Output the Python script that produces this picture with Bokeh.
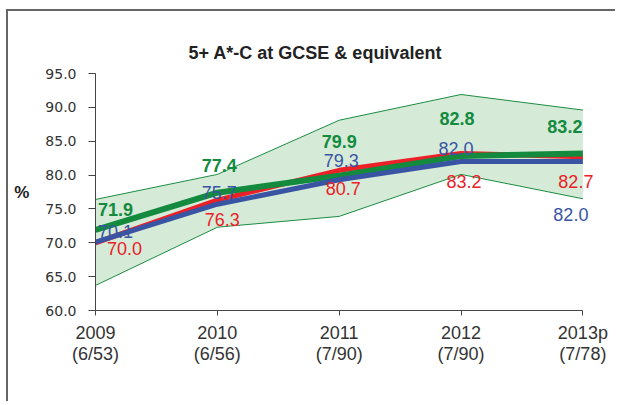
from bokeh.plotting import figure
from bokeh.models import Range1d, FixedTicker, ColumnDataSource, LabelSet, NumeralTickFormatter
from bokeh.core.properties import value
from bokeh.embed import file_html
from bokeh.resources import INLINE

# ---- data ----
years = ["2009", "2010", "2011", "2012", "2013p"]
counts = ["(6/53)", "(6/56)", "(7/90)", "(7/90)", "(7/78)"]
green_vals = [71.9, 77.4, 79.9, 82.8, 83.2]
red_vals = [70.0, 76.3, 80.7, 83.2, 82.7]
blue_vals = [70.1, 75.7, 79.3, 82.0, 82.0]
band_upper = [76.4, 80.1, 88.1, 91.9, 89.6]
band_lower = [63.7, 72.3, 73.9, 80.1, 76.5]
title_text = "5+ A*-C at GCSE & equivalent"
y_label = "%"

# ---- label offsets (screen px, layout only) ----
green_dx = [20, 2, 0, -4, -18]
green_dy = [20, 27, 34, 38, 27]
red_dx = [29, 5, 4, 3, -7]
red_dy = [-6, -19, -18, -28, -25]
blue_dx = [20, 2, 2, -5, -12]
blue_dy = [11, 12, 19, 13, -53]

GREEN = "#138a3e"
RED = "#ec2027"
BLUE = "#3a54a4"

xs = list(range(len(years)))

p = figure(width=609, height=392, output_backend="svg", toolbar_location=None,
           x_range=Range1d(0, len(years) - 1 + 0.12), y_range=Range1d(60, 95),
           min_border_left=87, min_border_top=62, min_border_right=20, min_border_bottom=93,
           title=title_text)
p.styles = {"margin-left": "6px", "margin-top": "9px",
            "border-left": "2px solid #666666", "border-top": "2px solid #666666"}
p.outline_line_color = None
p.background_fill_color = "white"
p.border_fill_color = "white"
p.grid.visible = False

p.title.text_font = "Liberation Sans"
p.title.text_font_size = "18px"
p.title.text_font_style = "bold"
p.title.text_color = "#222222"
p.title.align = "left"
p.title.offset = 93
p.title.standoff = 21

# band
band_src = ColumnDataSource(dict(x=xs, lo=band_lower, hi=band_upper))
p.varea(x="x", y1="lo", y2="hi", source=band_src, fill_color="#d5ebd8", fill_alpha=1.0)
p.line(x="x", y="hi", source=band_src, line_color="#1c8c42", line_width=1)
p.line(x="x", y="lo", source=band_src, line_color="#1c8c42", line_width=1)

# series
p.line(xs, red_vals, line_color=RED, line_width=5)
p.line(xs, green_vals, line_color=GREEN, line_width=6)
p.line(xs, blue_vals, line_color=BLUE, line_width=5)

def add_labels(vals, dx, dy, color, bold):
    src = ColumnDataSource(dict(x=xs, y=vals, t=[f"{v:.1f}" for v in vals], dx=dx, dy=dy))
    ls = LabelSet(x="x", y="y", text="t", x_offset="dx", y_offset="dy", source=src,
                  text_align="center", text_baseline="middle",
                  text_color=color, text_font=value("Liberation Sans"),
                  text_font_size="18px", text_font_style="bold" if bold else "normal")
    p.add_layout(ls)

add_labels(red_vals, red_dx, red_dy, RED, False)
add_labels(blue_vals, blue_dx, blue_dy, BLUE, False)
add_labels(green_vals, green_dx, green_dy, GREEN, True)

# axes
p.xaxis.ticker = FixedTicker(ticks=xs)
p.xaxis.bounds = (xs[0], xs[-1])
p.xaxis.major_label_overrides = {i: f"{y}\n{c}" for i, (y, c) in enumerate(zip(years, counts))}
p.xaxis.major_label_text_font = "Liberation Sans"
p.xaxis.major_label_text_font_size = "18px"
p.xaxis.major_label_text_color = "#333333"
p.xaxis.major_label_text_line_height = 1.05
p.xaxis.major_label_standoff = 7
p.xaxis.major_tick_in = 0
p.xaxis.major_tick_out = 5
p.xaxis.minor_tick_line_color = None
p.xaxis.axis_line_color = "#444444"
p.xaxis.major_tick_line_color = "#444444"

p.yaxis.ticker = FixedTicker(ticks=[60, 65, 70, 75, 80, 85, 90, 95])
p.yaxis.formatter = NumeralTickFormatter(format="0.0")
p.yaxis.major_label_text_font = "DejaVu Sans"
p.yaxis.major_label_text_font_size = "14px"
p.yaxis.major_label_text_color = "#333333"
p.yaxis.major_label_standoff = 12
p.yaxis.major_tick_in = 0
p.yaxis.major_tick_out = 7
p.yaxis.minor_tick_line_color = None
p.yaxis.axis_line_color = "#444444"
p.yaxis.major_tick_line_color = "#444444"
p.yaxis.axis_label = y_label
p.yaxis.axis_label_orientation = "horizontal"
p.yaxis.axis_label_text_font = "Liberation Sans"
p.yaxis.axis_label_text_font_size = "17px"
p.yaxis.axis_label_text_font_style = "bold"
p.yaxis.axis_label_text_color = "#222222"
p.yaxis.axis_label_standoff = 13

open("out.html", "w").write(file_html(p, INLINE))
